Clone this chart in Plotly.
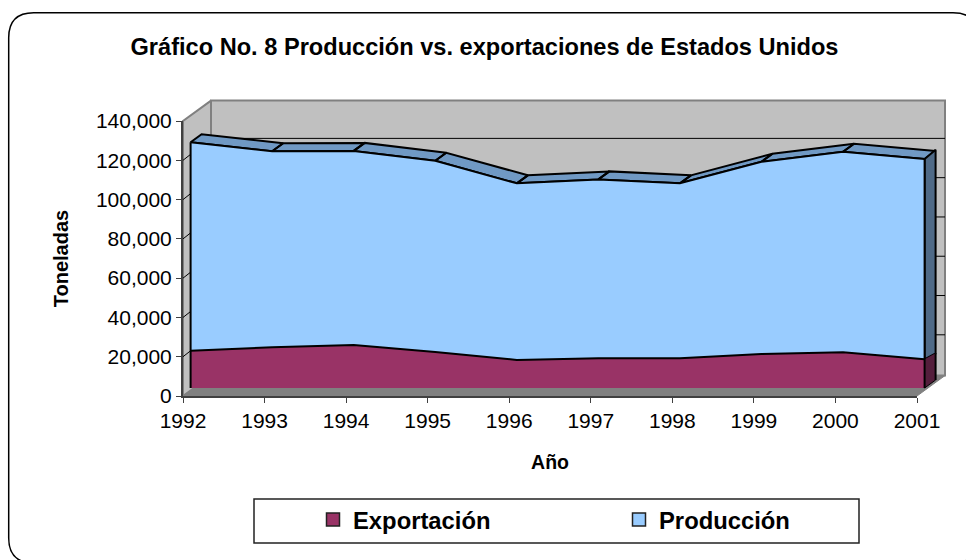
import plotly.graph_objects as go

# ---- data ----
anios = [1992, 1993, 1994, 1995, 1996, 1997, 1998, 1999, 2000, 2001]
exportacion = [19000, 20700, 21900, 18300, 14300, 15100, 15100, 17300, 18200, 14600]
produccion = [125100, 120500, 120700, 115700, 104200, 106200, 104200, 115200, 120300, 116600]
y_ticks = [0, 20000, 40000, 60000, 80000, 100000, 120000, 140000]

# ---- page geometry (px) ----
W, H = 966, 560
X0, X1, Y0, Y1 = 183, 917, 396, 121
PX_YEAR = (X1 - X0) / (anios[-1] - anios[0])
PX_VAL = (Y0 - Y1) / y_ticks[-1]

def dx(px): return px / PX_YEAR
def dy(px): return px / PX_VAL

WALL = (dx(28), dy(20.4))     # depth of the whole box
FACE = (dx(7.6), dy(8))       # offset of the series front face
BAND = (dx(11), dy(8))        # thickness of the ribbon
GRID_LIFT = dy(1.5)           # back-wall gridlines sit slightly above the wall scale

fig = go.Figure()

def poly(xs, ys, fill, line=None, width=1, name=None):
    fig.add_trace(go.Scatter(
        x=xs, y=ys, mode="lines", fill="toself", fillcolor=fill, name=name,
        line=dict(color=line or fill, width=width if line else 0),
        hoverinfo="skip", showlegend=False, xaxis="x", yaxis="y"))

def seg(xs, ys, color="#000000", width=1):
    fig.add_trace(go.Scatter(x=xs, y=ys, mode="lines", line=dict(color=color, width=width),
                             hoverinfo="skip", showlegend=False, xaxis="x", yaxis="y"))

xa, xb = anios[0], anios[-1]
ymax = y_ticks[-1]
bxa, bxb = xa + WALL[0], xb + WALL[0]
# walls and floor
poly([bxa, bxb, bxb, bxa, bxa], [WALL[1], WALL[1], ymax + WALL[1], ymax + WALL[1], WALL[1]], "#C0C0C0", "#808080", 2)
poly([xa, bxa, bxa, xa, xa], [0, WALL[1], ymax + WALL[1], ymax, 0], "#C0C0C0", "#808080", 2)
poly([xa, xb, bxb, bxa, xa], [0, 0, WALL[1], WALL[1], 0], "#808080", "#808080", 1)
# gridlines on the walls
for t in y_ticks[1:-1]:
    lifted = t + WALL[1] + GRID_LIFT
    seg([xa, bxa, bxb], [t, lifted, lifted], "#000000", 1)

# series faces
fx = [a + FACE[0] for a in anios]
base = FACE[1]

# production ribbon
rx, ry = [], []
for i in range(len(anios) - 1):
    x1, x2 = fx[i], fx[i + 1]
    y1, y2 = produccion[i] + base, produccion[i + 1] + base
    rx += [x1, x2, x2 + BAND[0], x1 + BAND[0], x1, None]
    ry += [y1, y2, y2 + BAND[1], y1 + BAND[1], y1, None]
poly(rx, ry, "#7099C4", "#000000", 2)

# right-hand sides
xr = fx[-1]
poly([xr, xr + BAND[0], xr + BAND[0], xr, xr],
     [produccion[-1] + base, produccion[-1] + base + BAND[1] * 1.15,
      exportacion[-1] + base + BAND[1] * .75, exportacion[-1] + base, produccion[-1] + base],
     "#4F6A87", "#000000", 2)
poly([xr, xr + BAND[0], xr + BAND[0], xr, xr],
     [exportacion[-1] + base, exportacion[-1] + base + BAND[1] * .75, base + BAND[1], base, exportacion[-1] + base],
     "#541E3C")
seg([xr + BAND[0], xr + BAND[0]], [exportacion[-1] + base + BAND[1] * .75, base + BAND[1]], "#000000", 2)
seg([xr, xr + BAND[0]], [base, base + BAND[1]], "#000000", 1)

# production front face
poly(fx + [fx[-1], fx[0], fx[0]], [v + base for v in produccion] + [base, base, produccion[0] + base],
     "#99CCFF", name="Producción")
seg(fx, [v + base for v in produccion], "#000000", 2)

# export front face
poly(fx + [fx[-1], fx[0], fx[0]], [v + base for v in exportacion] + [base, base, exportacion[0] + base],
     "#993366", name="Exportación")
seg(fx, [v + base for v in exportacion], "#000000", 2)
seg([fx[0], fx[0]], [base, produccion[0] + base], "#000000", 2)
seg([fx[-1], fx[-1]], [base, produccion[-1] + base], "#000000", 2)

# legend entries live on the visible axes
for nm, col in [("Exportación", "#993366"), ("Producción", "#99CCFF")]:
    fig.add_trace(go.Scatter(x=[None], y=[None], mode="markers", name=nm, xaxis="x2", yaxis="y2",
                             marker=dict(symbol="square", size=13, color=col,
                                         line=dict(color="#222222", width=1.5))))

FONT = "Liberation Sans, Arial, sans-serif"
AX = "#404040"

def r(x0, y0, x1, y1, rad):
    return (f"M {(x0 + rad) / W} {1 - y0 / H} L {(x1 - rad) / W} {1 - y0 / H} "
            f"Q {x1 / W} {1 - y0 / H} {x1 / W} {1 - (y0 + rad) / H} L {x1 / W} {1 - (y1 - rad) / H} "
            f"Q {x1 / W} {1 - y1 / H} {(x1 - rad) / W} {1 - y1 / H} L {(x0 + rad) / W} {1 - y1 / H} "
            f"Q {x0 / W} {1 - y1 / H} {x0 / W} {1 - (y1 - rad) / H} L {x0 / W} {1 - (y0 + rad) / H} "
            f"Q {x0 / W} {1 - y0 / H} {(x0 + rad) / W} {1 - y0 / H} Z")

fig.update_layout(
    width=W, height=H, autosize=False,
    margin=dict(l=0, r=0, t=0, b=0, pad=0, autoexpand=False),
    paper_bgcolor="#FFFFFF", plot_bgcolor="rgba(0,0,0,0)",
    font=dict(family=FONT, color="#000000"),
    title=dict(text="<b>Gráfico No. 8 Producción vs. exportaciones de Estados Unidos</b>",
               x=484.5 / W, xanchor="center", y=1 - 47 / H, yanchor="middle",
               font=dict(size=23.6, family=FONT, color="#000000")),
    # full-page hidden axes that carry the 3-D box, same units as the visible ones
    xaxis=dict(domain=[0, 1], range=[xa - X0 / PX_YEAR, xa + (W - X0) / PX_YEAR], visible=False),
    yaxis=dict(domain=[0, 1], range=[(Y0 - H) / PX_VAL, Y0 / PX_VAL], visible=False),
    xaxis2=dict(domain=[X0 / W, X1 / W], range=[xa, xb], tickvals=anios, tickformat="d", anchor="y2",
                showgrid=False, zeroline=False, showline=True, linecolor=AX, linewidth=2,
                ticks="outside", ticklen=5, tickcolor=AX, tickwidth=1,
                tickfont=dict(size=21, family=FONT, color="#000000"),
                title=dict(text="<b>Año</b>", font=dict(size=19.5, family=FONT), standoff=24)),
    yaxis2=dict(domain=[1 - Y0 / H, 1 - Y1 / H], range=[0, ymax], tickvals=y_ticks, tickformat=",d", anchor="x2",
                showgrid=False, zeroline=False, showline=True, linecolor=AX, linewidth=2,
                ticks="outside", ticklen=5, tickcolor=AX, tickwidth=1,
                tickfont=dict(size=21, family=FONT, color="#000000"),
                title=dict(text="<b>Toneladas</b>", font=dict(size=20, family=FONT), standoff=22)),
    legend=dict(orientation="h", x=313 / W, xanchor="left", y=1 - 519.5 / H, yanchor="middle",
                bgcolor="rgba(0,0,0,0)", borderwidth=0, itemclick=False, itemdoubleclick=False,
                entrywidth=261, entrywidthmode="pixels",
                font=dict(size=23.8, family=FONT, color="#000000", weight="bold")),
    shapes=[
        dict(type="path", xref="paper", yref="paper", path=r(8.7, 12.7, 978, 563, 25),
             line=dict(color="#000000", width=1.5), fillcolor="rgba(0,0,0,0)", layer="below"),
        dict(type="rect", xref="paper", yref="paper", x0=254 / W, x1=859 / W, y0=1 - 543 / H, y1=1 - 499 / H,
             line=dict(color="#222222", width=1.5), fillcolor="#FFFFFF", layer="below"),
    ],
)

fig.write_html("out.html", config=dict(displayModeBar=False),
               post_script="document.body.style.margin='0';document.documentElement.style.overflow='hidden';")
